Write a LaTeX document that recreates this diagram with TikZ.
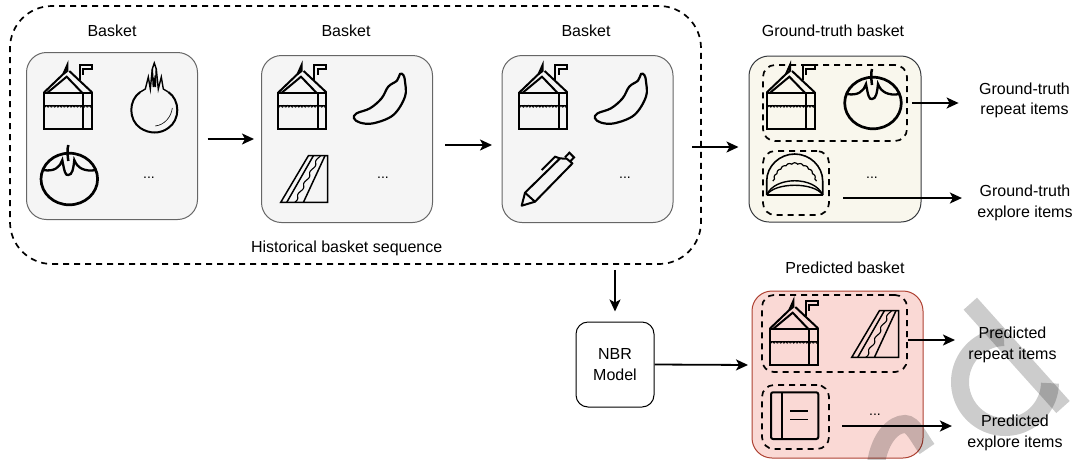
\documentclass[tikz,border=0pt]{standalone}
\usepackage{fontspec}
\setmainfont{Liberation Sans}
\usetikzlibrary{arrows.meta}
\definecolor{graybox}{HTML}{F5F5F5}
\definecolor{grayline}{HTML}{666666}
\definecolor{creambox}{HTML}{F9F7ED}
\definecolor{creamline}{HTML}{36393D}
\definecolor{redbox}{HTML}{FAD9D5}
\definecolor{redline}{HTML}{AE4132}
\tikzset{
    basket/.style={draw=grayline,fill=graybox,line width=1pt,rounded corners=20pt,minimum width=171pt,minimum height=167pt},
    itemgroup/.style={draw,line width=1.7pt,dash pattern=on 6pt off 5pt,rounded corners=12pt},
    flow/.style={line width=1.8pt,-{Stealth[length=12pt,width=11pt,inset=3pt]}},
    icon/.style={line width=2pt,line join=miter},
    dots/.style={font=\fontsize{14}{16}\selectfont},
    carton/.pic={
        \draw[icon] (0,29) rectangle (48,65);
        \draw[icon] (39.3,29) -- (39.3,65);
        \draw[icon] (0,28.5) -- (19.3,10) -- (23.3,1) -- (23.3,7.7);
        \draw[icon] (25.3,7) -- (48,28.3);
        \draw[icon] (2.7,29.3) -- (22.7,12.7) -- (38.7,29.3);
        \draw[icon] (19.3,10) -- (23.3,7);
        \draw[icon] (36,16) -- (36,1) -- (48,1) -- (48,5) -- (39.3,5) -- (39.3,11);
        \draw[line width=0.8pt] (0,41) -- (48,41);
        \draw[line width=1pt] plot[domain=0:48,samples=70] (\x,{42.3+0.8*sin(\x*110)});
    },
    tomato/.pic={
        \draw[line width=2.7pt] (0,0) ellipse [x radius=28.3,y radius=25.8];
        \draw[line width=2.5pt] (-1,-34) .. controls (-2,-30) and (-2,-26) .. (-1,-18);
        \draw[line width=2.3pt] (-26,-9) .. controls (-15,-7) and (-9,-12) .. (-7,-19) .. controls (-5,-8) and (-4,-3) .. (-1,-4) .. controls (3,-4) and (4,-10) .. (5,-19) .. controls (8,-11) and (15,-7) .. (27,-9);
    },
    onion/.pic={
        \draw[line width=2pt] (-14,-18) .. controls (-26,-10) and (-26,10) .. (-14,18) .. controls (-5,24) and (6,24) .. (14,18) .. controls (26,10) and (26,-10) .. (14,-18);
        \draw[line width=1.4pt] (-14,-18) -- (-9,-21) -- (-6,-33) -- (-4,-21) -- (-2,-41) -- (0,-47) -- (2,-41) -- (4,-21) -- (7,-33) -- (9,-21) -- (14,-18);
        \draw[line width=1.4pt] (-2,-41) -- (-1,-23) -- (0,-30) -- (1,-23) -- (2,-41);
        \draw[line width=0.6pt] (1,16) .. controls (10,15) and (17,7) .. (18,-2);
    },
    banana/.pic={
        \draw[line width=2.2pt] plot[smooth cycle,tension=0.6] coordinates {(46.7,0.7) (43.7,7.3) (35,13.3) (28.3,25) (16.7,35) (3.3,40) (0.7,45) (6.7,49.3) (20,50) (40,41.7) (51.7,23.3) (51.7,8.3) (50,1.7)};
    },
    sandwich/.pic={
        \draw[line width=1.5pt] (0,46.7) -- (27.7,0) -- (47,0) -- (47,46.7) -- cycle;
        \draw[line width=1.5pt] (6,46.7) -- (32.7,0) (22.7,46.7) -- (44.3,0);
        \draw[line width=1.1pt] plot[domain=0:1,samples=50] ({14+25*\x+1.2*sin(\x*1500)},{46.7-46.7*\x});
    },
    pen/.pic={
        \draw[line width=2pt,line join=round] (0,54) -- (3.3,41) -- (38.3,6.7) -- (45,7) -- (50.7,11.7) -- (13.3,50) -- cycle;
        \draw[line width=2pt] (3.3,41) -- (13.3,50);
        \draw[line width=2pt] (20,18.3) -- (33.3,5) -- (38.3,6.7);
        \draw[line width=2pt] (43.3,5.7) -- (47.7,1) -- (52.3,5.7) -- (48.3,10);
    },
    dumpling/.pic={
        \draw[line width=1.6pt] (0,41) -- (0,27) .. controls (0,12) and (13,0) .. (28,0) .. controls (43,0) and (56,12) .. (56,27) -- (56,41);
        \draw[line width=2pt] (0,41) -- (56,41);
        \draw[line width=1.2pt] plot[domain=10:170,samples=110] ({28+(21+1.2*abs(sin(\x*11)))*cos(\x)},{31-(21+1.2*abs(sin(\x*11)))*sin(\x)});
        \draw[line width=1.4pt] (0,41) .. controls (8,22) and (48,22) .. (56,41);
        \draw[line width=1.4pt] (0,41) .. controls (8,28) and (48,28) .. (56,41);
    },
    notebook/.pic={
        \draw[line width=2pt,rounded corners=2pt] (0,0) rectangle (47.3,46.7);
        \draw[line width=2pt] (10.7,0) -- (10.7,46.7);
        \draw[line width=1.6pt] (19,18.7) -- (37.3,18.7) (19,27) -- (37.3,27);
    },
}
\begin{document}
\begin{tikzpicture}[x=1pt,y=-1pt,font=\fontsize{16}{20.5}\selectfont]
    \useasboundingbox (0,0) rectangle (1074,459);
    % history
    \node[draw,line width=1.7pt,dash pattern=on 6pt off 5pt,rounded corners=42pt,minimum width=691pt,minimum height=258pt] (history) at (355.5,135) {};
    \node (histlabel) at (346.7,248) {Historical basket sequence};
    \node[basket] (first) at (112,136) {};
    \node[basket] (second) at (347,139) {};
    \node[basket] (third) at (587.5,139) {};
    \node (firstlabel) at (112,30.5) {Basket};
    \node (secondlabel) at (346,30.5) {Basket};
    \node (thirdlabel) at (586,30.5) {Basket};
    \pic at (44,64) {carton};
    \pic at (154.3,110) {onion};
    \pic at (69.3,179) {tomato};
    \node[dots] (firstdots) at (149,178) {...};
    \pic at (278.3,64) {carton};
    \pic at (353.3,73.3) {banana};
    \pic at (280.7,155.7) {sandwich};
    \node[dots] (seconddots) at (383,178) {...};
    \pic at (519.3,64) {carton};
    \pic at (594.3,73.3) {banana};
    \pic at (521.7,151.7) {pen};
    \node[dots] (thirddots) at (625,178) {...};
    % ground truth
    \node[draw=creamline,fill=creambox,line width=1pt,rounded corners=20pt,minimum width=172pt,minimum height=166pt] (truth) at (835,139) {};
    \node (truthlabel) at (833,30.5) {Ground-truth basket};
    \node[itemgroup,minimum width=144pt,minimum height=76pt] (truthrepeat) at (835,103) {};
    \node[itemgroup,minimum width=66pt,minimum height=64pt] (truthexplore) at (796,183) {};
    \pic at (766.7,64) {carton};
    \pic at (873,103) {tomato};
    \pic at (766.7,154) {dumpling};
    \node[dots] (truthdots) at (872,178) {...};
    \node[align=center] (repeatlabel) at (1024.5,100.5) {Ground-truth\\repeat items};
    \node[align=center] (explorelabel) at (1025,203) {Ground-truth\\explore items};
    % predicted
    \node[draw=redline,fill=redbox,line width=1pt,rounded corners=20pt,minimum width=171pt,minimum height=167pt] (pred) at (837.5,374.5) {};
    \node (predlabel) at (845,268) {Predicted basket};
    \node[itemgroup,minimum width=145pt,minimum height=77pt] (predrepeat) at (834.5,333.5) {};
    \node[itemgroup,minimum width=67pt,minimum height=64pt] (predexplore) at (795.5,417) {};
    \pic at (770,300) {carton};
    \pic at (851.7,310.7) {sandwich};
    \pic at (771,392.3) {notebook};
    \node[dots] (preddots) at (875,415) {...};
    \node[align=center] (predrepeatlabel) at (1012.5,345) {Predicted\\repeat items};
    \node[align=center] (predexplorelabel) at (1015,433) {Predicted\\explore items};
    \node[draw,line width=1pt,rounded corners=12pt,minimum width=78pt,minimum height=85pt,align=center] (model) at (615,364.5) {NBR\\Model};
    % connectors
    \coordinate (truthstart) at (843,198);
    \coordinate (predstart) at (842,426);
    \coordinate (predin) at (752,365);
    \draw[flow,shorten <=9.5pt,shorten >=7pt] ([yshift=-3pt]first.east) -- (second.west);
    \draw[flow,shorten <=12pt,shorten >=9.5pt] ([yshift=-6pt]second.east) -- ([yshift=-6pt]third.west);
    \draw[flow,shorten <=18.5pt,shorten >=10pt] ([yshift=-8pt]third.east) -- ([yshift=-8pt]truth.west);
    \draw[flow,shorten <=4pt,shorten >=17pt] (truthrepeat.east) -- (truthrepeat.east -| repeatlabel.west);
    \draw[flow,shorten >=12pt] (truthstart) -- (truthstart -| explorelabel.west);
    \draw[flow,shorten <=5pt,shorten >=10pt] (history.south -| model) -- (model.north);
    \draw[flow,shorten >=4pt] (model.east) -- (predin);
    \draw[flow,shorten >=10pt] ([yshift=-6.5pt]predrepeat.east) -- ([yshift=-6.5pt]predrepeat.east -| predrepeatlabel.west);
    \draw[flow,shorten >=12pt] (predstart) -- (predstart -| predexplorelabel.west);
    % watermark
    \begin{scope}[draw=black,opacity=0.2,line width=18pt]
        \draw (970.3,303.7) -- (1063,407);
        \draw plot[domain=91.5:358.5,samples=80] ({1005+45*cos(\x)},{382-45*sin(\x)});
        \draw (876,463) .. controls (880,438) and (893,424) .. (905,424) .. controls (913,424) and (919,438) .. (927,449);
    \end{scope}
\end{tikzpicture}
\end{document}
